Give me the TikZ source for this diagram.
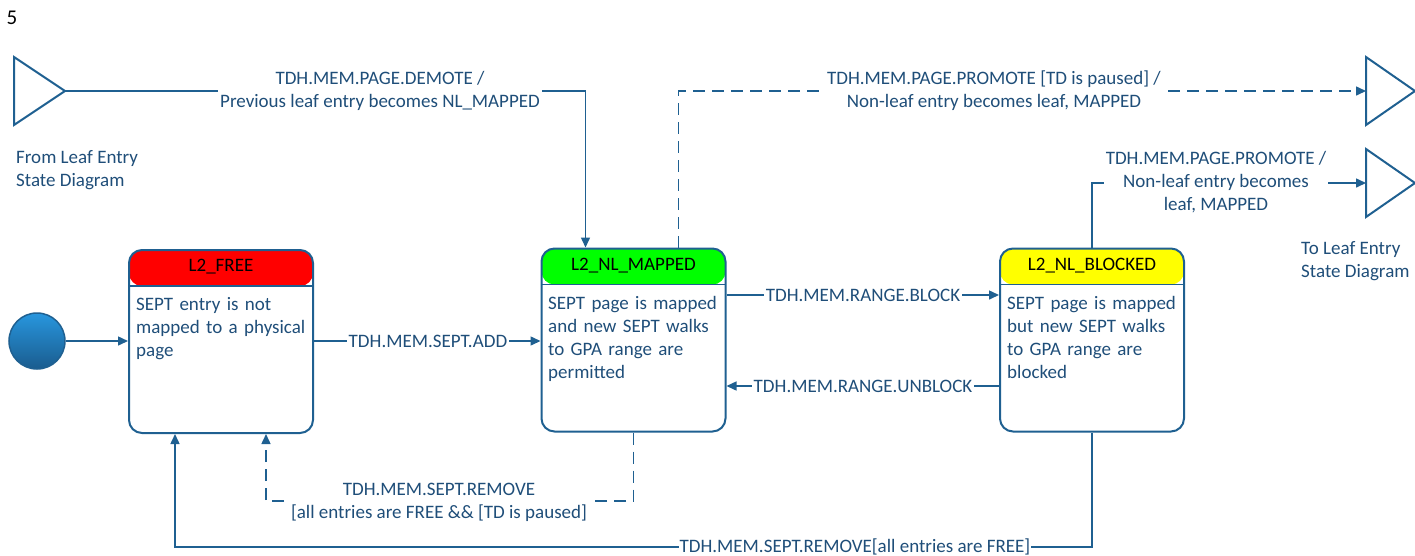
\documentclass[tikz,border=0pt]{standalone}
\usepackage{fontspec}
\setmainfont{Carlito}
\usetikzlibrary{arrows.meta}
\definecolor{lineblue}{RGB}{31,96,145}
\definecolor{txtblue}{RGB}{31,78,121}
\definecolor{hred}{RGB}{255,0,0}
\definecolor{hgreen}{RGB}{0,255,0}
\definecolor{hyellow}{RGB}{255,255,0}
\definecolor{circtop}{RGB}{40,150,222}
\definecolor{circbot}{RGB}{26,92,142}
\begin{document}
\hyphenpenalty=10000\relax
\exhyphenpenalty=10000\relax
\begin{tikzpicture}[x=1pt,y=-1pt,
  font=\fontsize{19}{23}\selectfont,
  every node/.style={text=txtblue},
  line/.style={draw=lineblue, line width=1.5pt},
  arr/.style={line, -{Triangle[length=10pt,width=9pt]}},
  dsh/.style={dash pattern=on 12pt off 7pt},
  lbl/.style={fill=white, inner sep=2pt, align=center},
  state/.style={draw=lineblue, line width=2pt, rounded corners=13pt,
    minimum width=184pt, minimum height=183pt, inner sep=0pt,
    path picture={\fill[#1] (path picture bounding box.north west) rectangle ([yshift=-36pt]path picture bounding box.north east);
      \draw[lineblue,line width=1.5pt] ([yshift=-36pt]path picture bounding box.north west) -- ([yshift=-36pt]path picture bounding box.north east);}},
  hdr/.style={text=black},
  body/.style={anchor=north west, align=left, text width=176pt, inner sep=0pt},
  tri/.style={draw=lineblue, line width=2pt, line join=miter}]
\useasboundingbox (0,0) rectangle (1415,555);

% page number
\node[text=black, font=\fontsize{21}{25}\selectfont] (pgnum) at (12,18) {5};

% entry / exit triangles
\coordinate (triL) at (65,91);
\draw[tri] (14,57) -- (14,125) -- (triL) -- cycle;
\node[anchor=west, align=left, inner sep=0pt] (fromtxt) at (16,170.5) {From Leaf Entry\\State Diagram};

\coordinate (triTR) at (1366,91);
\draw[tri] (1366,57) -- (1366,125) -- (1415,91) -- cycle;
\coordinate (triR2) at (1366,183);
\draw[tri] (1366,149) -- (1366,217) -- (1415,183) -- cycle;
\node[anchor=west, align=left, inner sep=0pt] (totxt) at (1301,261.5) {To Leaf Entry\\State Diagram};

% initial state
\node[circle, minimum size=56pt, inner sep=0pt, draw=lineblue, line width=1.5pt,
  top color=circtop, bottom color=circbot] (init) at (37,341) {};

% states
\node[state=hred] (free) at (221,341.5) {};
\node[hdr] (freeh) at ([yshift=-18pt]free.north) {L2\_FREE};
\node[body] (freeb) at (136,297) {SEPT entry is not mapped to a physical page};

\node[state=hgreen] (mapped) at (633.5,340) {};
\node[hdr] (mappedh) at ([yshift=-18pt]mapped.north) {L2\_NL\_MAPPED};
\node[body] (mappedb) at (548,296) {SEPT page is mapped and new SEPT walks to GPA range are permitted};

\node[state=hyellow] (blocked) at (1092,340) {};
\node[hdr] (blockedh) at ([yshift=-18pt]blocked.north) {L2\_NL\_BLOCKED};
\node[body] (blockedb) at (1007,296) {SEPT page is mapped but new SEPT walks to GPA range are blocked};

% transitions
\draw[arr] (init.east) -- (free.west |- init.east);

\draw[arr] (free.east |- 0,341) -- (mapped.west |- 0,341);
\node[lbl] (lsadd) at (428,341) {TDH.MEM.SEPT.ADD};

\draw[arr] (mapped.east |- 0,295) -- (blocked.west |- 0,295);
\node[lbl] (lblock) at (863,295) {TDH.MEM.RANGE.BLOCK};

\draw[arr] (blocked.west |- 0,386) -- (mapped.east |- 0,386);
\node[lbl] (lunblock) at (863,386) {TDH.MEM.RANGE.UNBLOCK};

\draw[arr] (triL) -| ([xshift=45pt]mapped.north west);
\node[lbl] (ldemote) at (380,91) {TDH.MEM.PAGE.DEMOTE /\\Previous leaf entry becomes NL\_MAPPED};

\draw[arr, dsh] ([xshift=138pt]mapped.north west) |- (triTR);
\node[lbl] (lpromp) at (994,91) {TDH.MEM.PAGE.PROMOTE [TD is paused] /\\Non-leaf entry becomes leaf, MAPPED};

\draw[arr] ([xshift=93pt]blocked.north west) |- (triR2);
\node[lbl] (lprom) at (1216,182) {TDH.MEM.PAGE.PROMOTE /\\Non-leaf entry becomes\\leaf, MAPPED};

\draw[arr, dsh] (mapped.south) -- (mapped.south |- 0,501) -| ([xshift=138pt]free.south west);
\node[lbl] (lremp) at (439,502) {TDH.MEM.SEPT.REMOVE\\{}[all entries are FREE \&\& [TD is paused]};

\draw[arr] (blocked.south) -- (blocked.south |- 0,547) -| ([xshift=47pt]free.south west);
\node[lbl, inner sep=1pt] (lrem) at (855,547) {TDH.MEM.SEPT.REMOVE[all entries are FREE]};
\end{tikzpicture}
\end{document}
